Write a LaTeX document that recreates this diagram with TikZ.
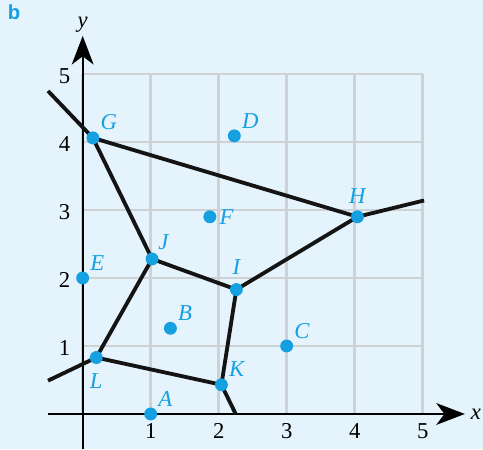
\documentclass[tikz,border=0pt]{standalone}
\usepackage{fontspec}
\setmainfont{Liberation Serif}
\setsansfont{Liberation Sans}
\usetikzlibrary{
  arrows.meta,
  backgrounds
}
\definecolor{paperBlue}{HTML}{E4F3FC}
\definecolor{siteBlue}{HTML}{14A0E1}
\definecolor{gridGray}{HTML}{CFD2D4}
\tikzset{
  site/.style      = {circle, fill=siteBlue, inner sep=0pt,
                      minimum size=0.19cm},
  siteLabel/.style = {text=siteBlue, inner sep=1pt,
                      font=\fontsize{9.5}{11}\selectfont\itshape},
  cellEdge/.style  = {line width=1.6pt, draw=black!92},
  axis/.style      = {line width=0.95pt, draw=black,
                      -{Stealth[length=0.42cm, width=0.32cm, inset=0.12cm]}},
  gridLine/.style  = {line width=1.2pt, draw=gridGray},
  tick/.style      = {font=\fontsize{9.5}{11}\selectfont}
}

\begin{document}
\begin{tikzpicture}
  % frame and paper colour
  \useasboundingbox (-1.216,-0.515) rectangle (5.887,6.088);
  \begin{scope}[on background layer]
    \fill[paperBlue] (-1.216,-0.515) rectangle (5.887,6.088);
    \draw[gridLine] (0,0) grid (5,5);
    % axes
    \draw[axis] (-0.51,0) -- (5.62,0) node[right, inner sep=2pt,
         font=\fontsize{9.5}{11}\selectfont\itshape] (xlab) {x};
    \draw[axis] (0,-0.515) -- (0,5.56) node[above, inner sep=1pt,
         font=\fontsize{9.5}{11}\selectfont\itshape] (ylab) {y};
    \foreach \t in {1,...,5}{
      \node[tick, below] (xt\t) at (\t,-0.02) {\t};
      \node[tick, left] (yt\t) at (-0.06,\t-0.03) {\t};
    }
  \end{scope}
  \node[text=siteBlue, font=\sffamily\bfseries\fontsize{8.5}{10}\selectfont]
       (panel) at (-1.01,5.91) {b};
  % sites and Voronoi vertices
  \foreach \n/\x/\y/\p/\d in {
      A/1/0/45/0pt,
      B/1.29/1.26/45/0pt,
      C/3/1/45/0pt,
      D/2.23/4.09/45/0pt,
      E/0/2/45/0pt,
      F/1.87/2.9/0/0pt,
      G/0.15/4.06/45/0pt,
      H/4.04/2.9/90/1.5pt,
      I/2.26/1.83/90/2pt,
      J/1.02/2.28/60/0pt,
      K/2.04/0.43/45/0pt,
      L/0.2/0.83/-90/2.5pt}{
    \node[site, label={[siteLabel, label distance=\d]\p:\n}] (\n) at (\x,\y) {};
  }
  % free ends of the unbounded edges
  \coordinate (endG) at (-0.51,4.75);
  \coordinate (endH) at (5.02,3.14);
  \coordinate (endL) at (-0.51,0.49);
  \coordinate (endK) at (2.25,0);
  \begin{scope}[on background layer]
    \draw[cellEdge] (endG) -- (G.center) -- (H.center) -- (endH);
    \draw[cellEdge] (G.center) -- (J.center) -- (I.center) -- (H.center);
    \draw[cellEdge] (J.center) -- (L.center) -- (endL);
    \draw[cellEdge] (L.center) -- (K.center) -- (endK);
    \draw[cellEdge] (K.center) -- (I.center);
  \end{scope}
\end{tikzpicture}
\end{document}
